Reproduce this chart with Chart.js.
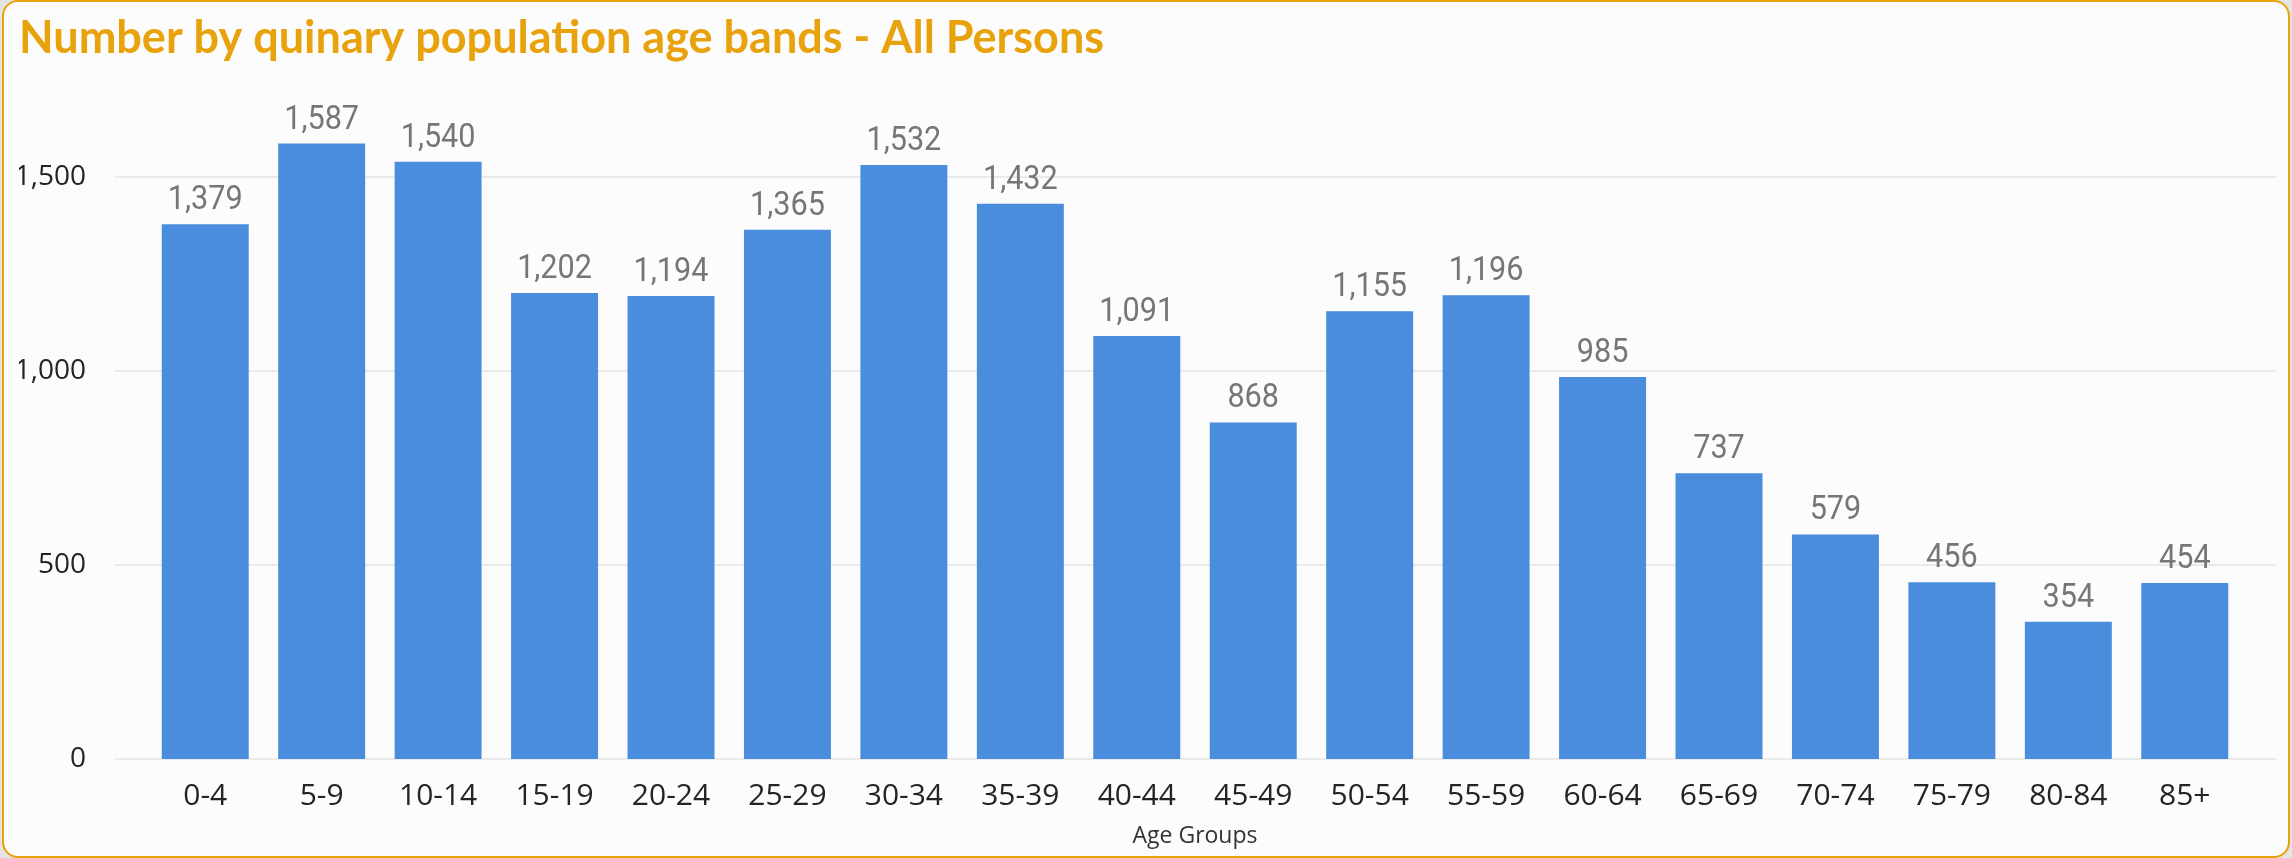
<!DOCTYPE html>
<html>
<head>
<meta charset="utf-8">
<script src="https://cdn.jsdelivr.net/npm/chart.js@4/dist/chart.umd.min.js"></script>
<style>
  html, body { margin: 0; padding: 0; background: #E4E4E4; width: 2292px; height: 858px; overflow: hidden; }
  #frame { position: absolute; left: 2px; top: 0; width: 2288px; height: 858px; box-sizing: border-box;
           border: 2px solid #E8A20C; border-radius: 16px; background: #FCFCFC; }
  #wrap { position: absolute; left: 0; top: 0; width: 2292px; height: 858px; }
</style>
</head>
<body>
<div id="frame"></div>
<div id="wrap"><canvas id="c" width="2292" height="858"></canvas></div>
<script>
const titleText = "Number by quinary population age bands - All Persons";
const xAxisTitle = "Age Groups";
const categories = ["0-4","5-9","10-14","15-19","20-24","25-29","30-34","35-39","40-44","45-49","50-54","55-59","60-64","65-69","70-74","75-79","80-84","85+"];
const persons = [1379,1587,1540,1202,1194,1365,1532,1432,1091,868,1155,1196,985,737,579,456,354,454];
const yTicks = [0, 500, 1000, 1500];

const gridPlugin = {
  id: 'extGrid',
  beforeDatasetsDraw(chart) {
    const {ctx, chartArea, scales} = chart;
    ctx.save();
    ctx.strokeStyle = '#EAEAEA';
    ctx.lineWidth = 2;
    scales.y.ticks.forEach(t => {
      const y = Math.round(scales.y.getPixelForValue(t.value));
      ctx.beginPath();
      ctx.moveTo(chartArea.left - 32, y);
      ctx.lineTo(chartArea.right + 33, y);
      ctx.stroke();
    });
    ctx.restore();
  }
};

const labelPlugin = {
  id: 'valLabels',
  afterDatasetsDraw(chart) {
    const {ctx} = chart;
    const meta = chart.getDatasetMeta(0);
    ctx.save();
    ctx.font = '400 34px Roboto';
    ctx.fillStyle = '#767676';
    ctx.textAlign = 'center';
    ctx.textBaseline = 'alphabetic';
    meta.data.forEach((bar, i) => {
      const v = chart.data.datasets[0].data[i];
      ctx.save();
      ctx.translate(bar.x, bar.y - 15);
      ctx.scale(0.9, 1);
      ctx.fillText(v.toLocaleString('en-US'), 0, 0);
      ctx.restore();
    });
    ctx.restore();
  }
};

new Chart(document.getElementById('c'), {
  type: 'bar',
  data: {
    labels: categories,
    datasets: [{
      label: 'All Persons',
      data: persons,
      backgroundColor: '#4A8DDC',
      borderWidth: 0,
      barPercentage: 0.747,
      categoryPercentage: 1.0
    }]
  },
  options: {
    responsive: false,
    devicePixelRatio: 1,
    animation: false,
    layout: { padding: { left: 19, right: 49, top: 0, bottom: 0 } },
    plugins: {
      legend: { display: false },
      tooltip: { enabled: false },
      title: {
        display: true,
        text: titleText,
        align: 'start',
        color: '#E8A20C',
        font: { family: 'Lato', weight: 'bold', size: 45 },
        padding: { top: 11, bottom: 34.8 }
      }
    },
    scales: {
      x: {
        grid: { display: false },
        border: { display: false },
        ticks: { color: '#252423', font: { family: 'Open Sans', size: 30 }, padding: 11, maxRotation: 0, autoSkip: false },
        title: { display: true, text: xAxisTitle, color: '#333333', font: { family: 'Open Sans', size: 23 }, padding: { top: 0, bottom: 8 } },
        afterFit(scale) { scale.height = 99; }
      },
      y: {
        min: 0,
        max: 1700,
        grid: { display: false },
        border: { display: false },
        afterBuildTicks(scale) { scale.ticks = yTicks.map(v => ({ value: v })); },
        ticks: {
          color: '#252423',
          font: { family: 'Open Sans', size: 28 },
          padding: 53,
          callback: v => v.toLocaleString('en-US')
        },
        afterFit(scale) { scale.width = 128; }
      }
    }
  },
  plugins: [gridPlugin, labelPlugin]
});
</script>
</body>
</html>
